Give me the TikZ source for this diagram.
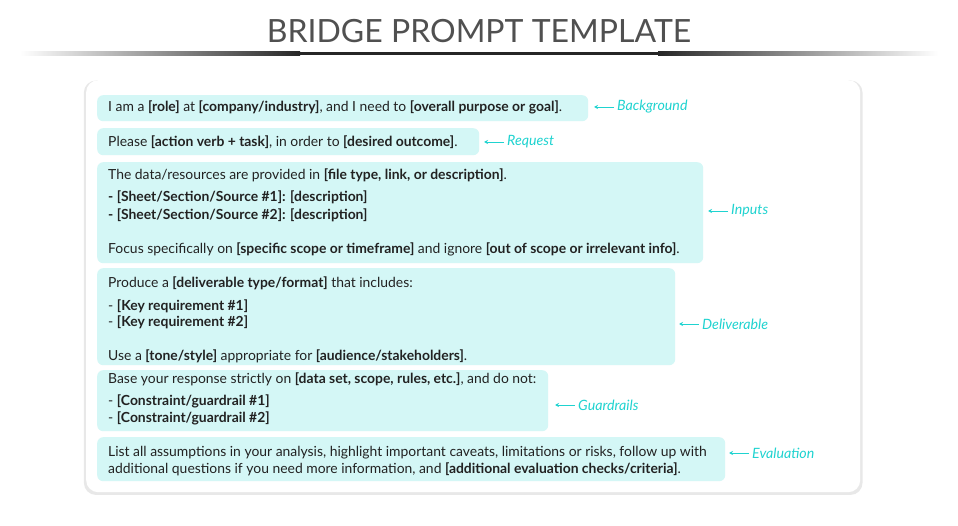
\documentclass[tikz,border=0pt]{standalone}
\usepackage{fontspec}
\setmainfont{Lato}
\usetikzlibrary{arrows.meta, positioning, shadows}
\definecolor{boxfill}{HTML}{D4F7F6}
\definecolor{tagcyan}{HTML}{1FD3D0}
\definecolor{titlegray}{HTML}{505050}
\definecolor{bodytext}{HTML}{222222}
\tikzset{
  promptbox/.style={rectangle, rounded corners=6pt, fill=boxfill, anchor=north west, inner sep=0pt},
  line/.style={anchor=west, inner sep=0pt, font=\fontsize{13.9}{15}\selectfont, text=bodytext},
  tag/.style={anchor=west, inner sep=0pt, font=\fontsize{14.2}{15}\selectfont\itshape, text=tagcyan},
  tagarrow/.style={draw=tagcyan, -{Stealth[length=4pt,width=4pt]}, line width=0.8pt}
}
\begin{document}
\begin{tikzpicture}[x=1pt, y=-1pt]
  \useasboundingbox (0,0) rectangle (958,526);
  % title and rule
  \node[text=titlegray, font=\fontsize{32}{36}\selectfont] (title) at (479,31) {BRIDGE PROMPT TEMPLATE};
  \shade[left color=white, right color=black!85] (20,52) rectangle (300,55.5);
  \fill[black!85] (300,52) rectangle (658,55.5);
  \shade[left color=black!85, right color=white] (658,52) rectangle (938,55.5);
  % card
  \node[promptbox, fill=white, rounded corners=12pt, minimum width=774pt, minimum height=412pt,
        drop shadow={shadow xshift=0pt, shadow yshift=-1.5pt, opacity=0.18, shadow scale=1.006}] (card) at (86,80) {};

  % boxes
  \node[promptbox, minimum width=491pt, minimum height=26pt] (background) at (97,95) {};
  \node[promptbox, minimum width=382pt, minimum height=27pt] (request) at (97,128) {};
  \node[promptbox, minimum width=606pt, minimum height=101pt] (inputs) at (97,162) {};
  \node[promptbox, minimum width=578pt, minimum height=97pt] (deliverable) at (97,268) {};
  \node[promptbox, minimum width=451pt, minimum height=61pt] (guardrails) at (97,370) {};
  \node[promptbox, minimum width=628pt, minimum height=44pt] (evaluation) at (97,437) {};

  % texts
  \node[line] (l1) at (108,107) {I am a \textbf{[role]} at \textbf{[company/industry]}, and I need to \textbf{[overall purpose or goal]}.};
  \node[line] (l2) at (108,142) {Please \textbf{[action verb + task]}, in order to \textbf{[desired outcome]}.};
  \node[line] (l3a) at (108,175) {The data/resources are provided in \textbf{[file type, link, or description]}.};
  \node[line] (l3b) at (108,197) {\textbf{- [Sheet/Section/Source \#1]: [description]}};
  \node[line] (l3c) at (108,215) {\textbf{- [Sheet/Section/Source \#2]: [description]}};
  \node[line] (l3d) at (108,249) {Focus specifically on \textbf{[specific scope or timeframe]} and ignore \textbf{[out of scope or irrelevant info]}.};
  \node[line] (l4a) at (108,283) {Produce a \textbf{[deliverable type/format]} that includes:};
  \node[line] (l4b) at (108,306) {- \textbf{[Key requirement \#1]}};
  \node[line] (l4c) at (108,322) {- \textbf{[Key requirement \#2]}};
  \node[line] (l4d) at (108,356) {Use a \textbf{[tone/style]} appropriate for \textbf{[audience/stakeholders]}.};
  \node[line] (l5a) at (108,379) {Base your response strictly on \textbf{[data set, scope, rules, etc.]}, and do not:};
  \node[line] (l5b) at (108,401) {- \textbf{[Constraint/guardrail \#1]}};
  \node[line] (l5c) at (108,418) {- \textbf{[Constraint/guardrail \#2]}};
  \node[line] (l6a) at (108,453) {List all assumptions in your analysis, highlight important caveats, limitations or risks, follow up with};
  \node[line] (l6b) at (108,469) {additional questions if you need more information, and \textbf{[additional evaluation checks/criteria]}.};

  % tags
  \node[tag] (tbackground) at (617,107) {Background};
  \node[tag] (trequest) at (507,142) {Request};
  \node[tag] (tinputs) at (731,211) {Inputs};
  \node[tag] (tdeliverable) at (702,324) {Deliverable};
  \node[tag] (tguardrails) at (578,405) {Guardrails};
  \node[tag] (tevaluation) at (752,453) {Evaluation};
  \draw[tagarrow] ([xshift=-3pt]tbackground.west) -- ++(-20,0);
  \draw[tagarrow] ([xshift=-3pt]trequest.west) -- ++(-20,0);
  \draw[tagarrow] ([xshift=-3pt]tinputs.west) -- ++(-20,0);
  \draw[tagarrow] ([xshift=-3pt]tdeliverable.west) -- ++(-20,0);
  \draw[tagarrow] ([xshift=-3pt]tguardrails.west) -- ++(-20,0);
  \draw[tagarrow] ([xshift=-3pt]tevaluation.west) -- ++(-20,0);
\end{tikzpicture}
\end{document}
